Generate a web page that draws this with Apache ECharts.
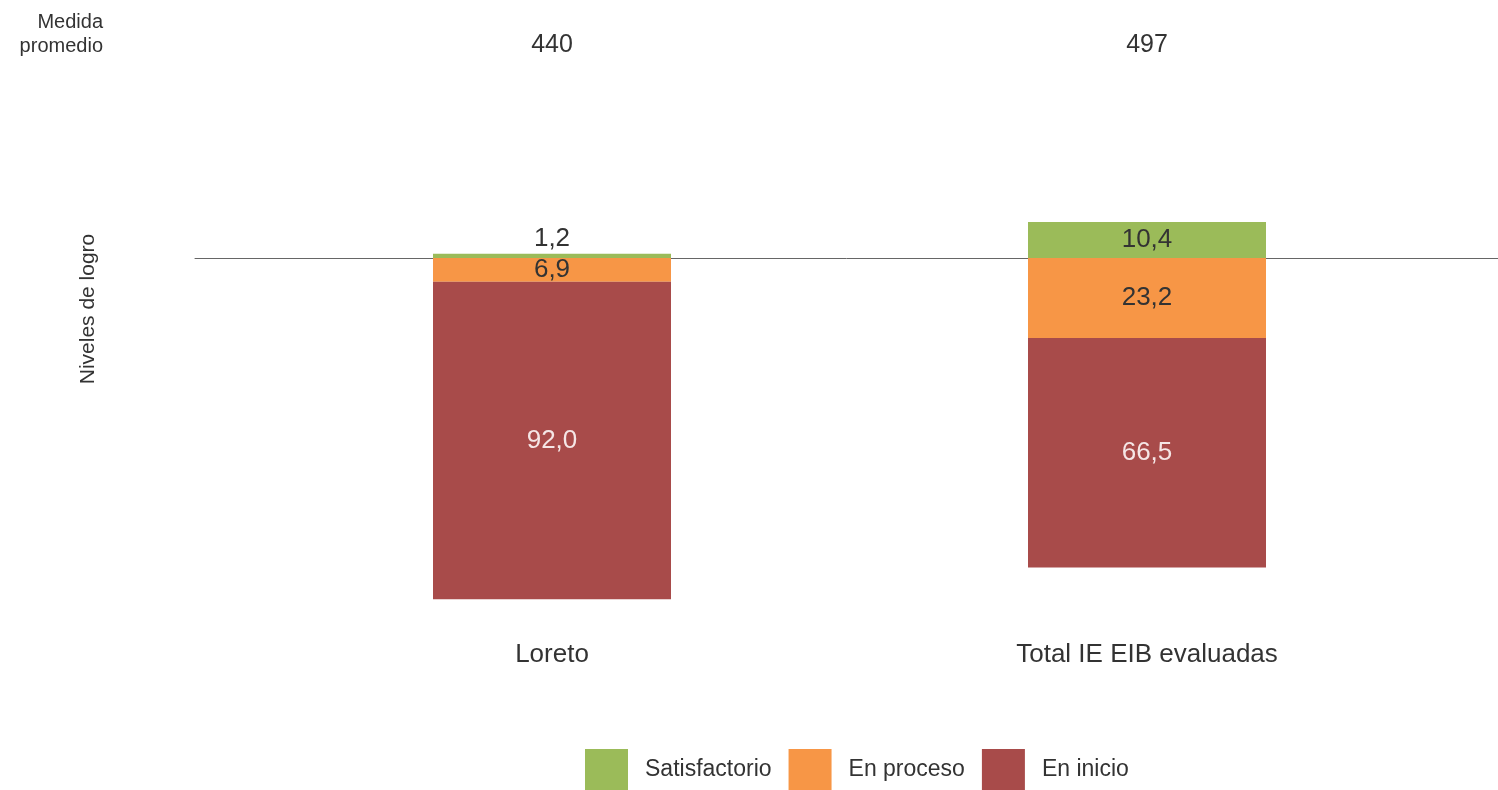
<!DOCTYPE html>
<html>
<head>
<meta charset="utf-8">
<script src="https://cdn.jsdelivr.net/npm/echarts@6/dist/echarts.min.js"></script>
<style>
html,body{margin:0;padding:0;background:#fff;}
#c{width:1498px;height:790px;}
</style>
</head>
<body>
<div id="c"></div>
<script>
const categories = ['Loreto', 'Total IE EIB evaluadas'];
const medias = ['440', '497'];
const satisfactorio = [1.2, 10.4];
const enProceso = [6.9, 23.2];
const enInicio = [92.0, 66.5];

const FONT = '"Liberation Sans", Arial, sans-serif';
const fmt = v => Math.abs(v).toFixed(1).replace('.', ',');

const chart = echarts.init(document.getElementById('c'));
chart.setOption({
  animation: false,
  textStyle: { fontFamily: FONT },
  grid: [
    { left: 254.5, right: 53.5, top: 189, bottom: 187 },
    { left: 195, right: 0, top: 189, bottom: 187 }
  ],
  xAxis: [
    { type: 'category', gridIndex: 0, data: categories, position: 'bottom',
      axisLine: { show: false, onZero: false }, axisTick: { show: false },
      axisLabel: { fontSize: 26, color: '#333', margin: 39, fontFamily: FONT } },
    { type: 'category', gridIndex: 0, data: medias, position: 'top', offset: 123,
      axisLine: { show: false }, axisTick: { show: false },
      axisLabel: { fontSize: 25, color: '#333', margin: 8, fontFamily: FONT } },
    { type: 'value', gridIndex: 1, min: 0, max: 1,
      axisLine: { show: true, onZero: true, lineStyle: { color: '#666', width: 1 } },
      axisTick: { show: false }, axisLabel: { show: false }, splitLine: { show: false } }
  ],
  yAxis: [
    { type: 'value', gridIndex: 0, min: -100, max: 20, show: false, splitLine: { show: false } },
    { type: 'value', gridIndex: 1, min: -100, max: 20, show: false, splitLine: { show: false } }
  ],
  legend: {
    left: 585, top: 749, itemWidth: 43, itemHeight: 41, itemGap: 17, padding: 0,
    icon: 'rect',
    data: ['Satisfactorio', 'En proceso', 'En inicio'],
    textStyle: { fontSize: 23, color: '#333', fontFamily: FONT, padding: [0, 0, 0, 12] }
  },
  graphic: [
    { type: 'text', x: 103, y: 22,
      style: { text: 'Medida', fill: '#333', align: 'right', verticalAlign: 'middle', font: '20px ' + FONT } },
    { type: 'text', x: 103, y: 46,
      style: { text: 'promedio', fill: '#333', align: 'right', verticalAlign: 'middle', font: '20px ' + FONT } },
    { type: 'text', x: 88, y: 309, rotation: Math.PI / 2,
      style: { text: 'Niveles de logro', fill: '#333', align: 'center', verticalAlign: 'middle', font: '21px ' + FONT } }
  ],
  series: [
    { name: 'Satisfactorio', type: 'bar', stack: 'a', xAxisIndex: 0, yAxisIndex: 0, barWidth: 238,
      itemStyle: { color: '#9BBB59' },
      data: satisfactorio.map(v => ({ value: v, label: { position: v < 5 ? 'top' : 'inside', distance: 2 } })),
      label: { show: true, fontSize: 26, color: '#333', formatter: p => fmt(p.value), fontFamily: FONT } },
    { name: 'En proceso', type: 'bar', stack: 'a', xAxisIndex: 0, yAxisIndex: 0, barWidth: 238,
      itemStyle: { color: '#F79646' },
      data: enProceso.map(v => -v),
      label: { show: true, position: 'inside', fontSize: 26, color: '#333', formatter: p => fmt(p.value), fontFamily: FONT } },
    { name: 'En inicio', type: 'bar', stack: 'a', xAxisIndex: 0, yAxisIndex: 0, barWidth: 238,
      itemStyle: { color: '#A84B4A' },
      data: enInicio.map(v => -v),
      label: { show: true, position: 'inside', fontSize: 26, color: '#F5E6E6', formatter: p => fmt(p.value), fontFamily: FONT } }
  ]
});
</script>
</body>
</html>
